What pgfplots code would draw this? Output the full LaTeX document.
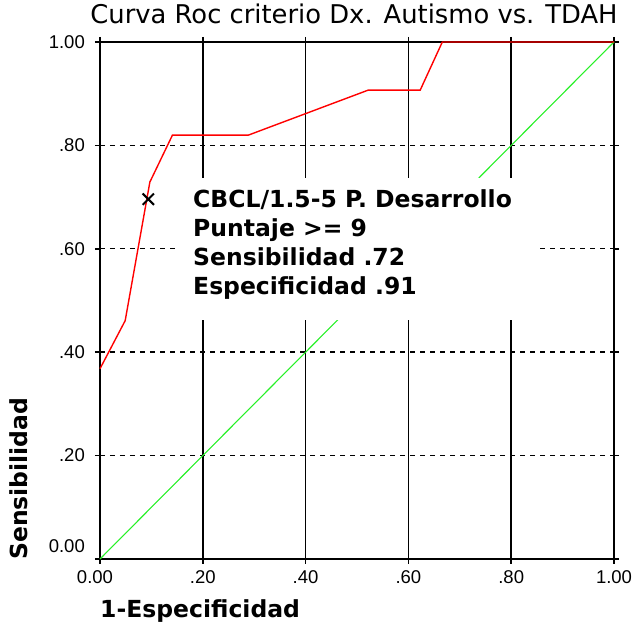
\documentclass[border=0pt]{standalone}
\usepackage{pgfplots}
\pgfplotsset{compat=1.18}
\usepackage{fontspec}
\setmainfont{DejaVu Sans}
\newfontfamily\ticfont{Liberation Sans}
\definecolor{rocred}{RGB}{255,0,0}
\definecolor{refgreen}{RGB}{40,240,40}
\begin{document}
\begin{tikzpicture}
\useasboundingbox (-100pt,-69pt) rectangle (532pt,559pt);
\begin{axis}[
  at={(0pt,0pt)}, anchor=south west,
  scale only axis, width=514pt, height=517pt,
  xmin=0, xmax=1, ymin=0, ymax=1,
  xtick={0,0.2,0.4,0.6,0.8,1},
  xticklabels={\hspace*{-10pt}0.00,.20,.40,.60,.80,1.00},
  ytick={0.2,0.4,0.6,0.8,1},
  yticklabels={.20,.40,.60,.80,1.00},
  extra y ticks={0},
  extra y tick labels={0.00},
  extra y tick style={yticklabel style={yshift=13pt}},
  tick align=outside, major tick length=5pt,
  every tick/.append style={black, line width=1.6pt},
  ymajorgrids,
  major grid style={black, line width=1.4pt, dash pattern=on 5pt off 5pt},
  extra x ticks={0.2,0.4,0.6,0.8},
  extra x tick labels={},
  extra x tick style={grid=major, major grid style={black, solid, line width=1.6pt}, major tick length=0pt},
  axis line style={black, line width=1.6pt},
  tick label style={font=\ticfont\fontsize{18.5}{21}\selectfont},
  yticklabel style={inner sep=0pt, xshift=-10pt},
  xticklabel style={inner sep=0pt, yshift=-6pt},
  clip=false,
]
\addplot[refgreen, line width=1.1pt] coordinates {(0,0) (1,1)};
\fill[white] (axis cs:0.152,0.463) rectangle (axis cs:0.854,0.736);
\addplot[rocred, line width=1.4pt] coordinates {
  (0,0.368) (0.049,0.461) (0.097,0.729) (0.141,0.820) (0.289,0.820)
  (0.522,0.907) (0.623,0.907) (0.666,1.0) (1,1.0)};
\addplot[only marks, mark=x, mark size=8pt, black, line width=2pt] coordinates {(0.094,0.696)};
\end{axis}
\begin{scope}[every node/.style={inner sep=0pt, font=\bfseries\fontsize{23.5}{28}\selectfont}]
\node[anchor=base west] at (93pt,351.7pt) {CBCL/1.5-5 P. Desarrollo};
\node[anchor=base west] at (93pt,322.5pt) {Puntaje >= 9};
\node[anchor=base west] at (93pt,293.3pt) {Sensibilidad .72};
\node[anchor=base west] at (93pt,264.1pt) {Especificidad .91};
\node[anchor=base west] at (0pt,-59pt) {1-Especificidad};
\node[anchor=base west, rotate=90] at (-72pt,-1pt) {Sensibilidad};
\end{scope}
\node[anchor=base, inner sep=0pt, font=\fontsize{25.8}{30}\selectfont] at (254pt,535pt) {Curva Roc criterio Dx. Autismo vs. TDAH};
\end{tikzpicture}
\end{document}
